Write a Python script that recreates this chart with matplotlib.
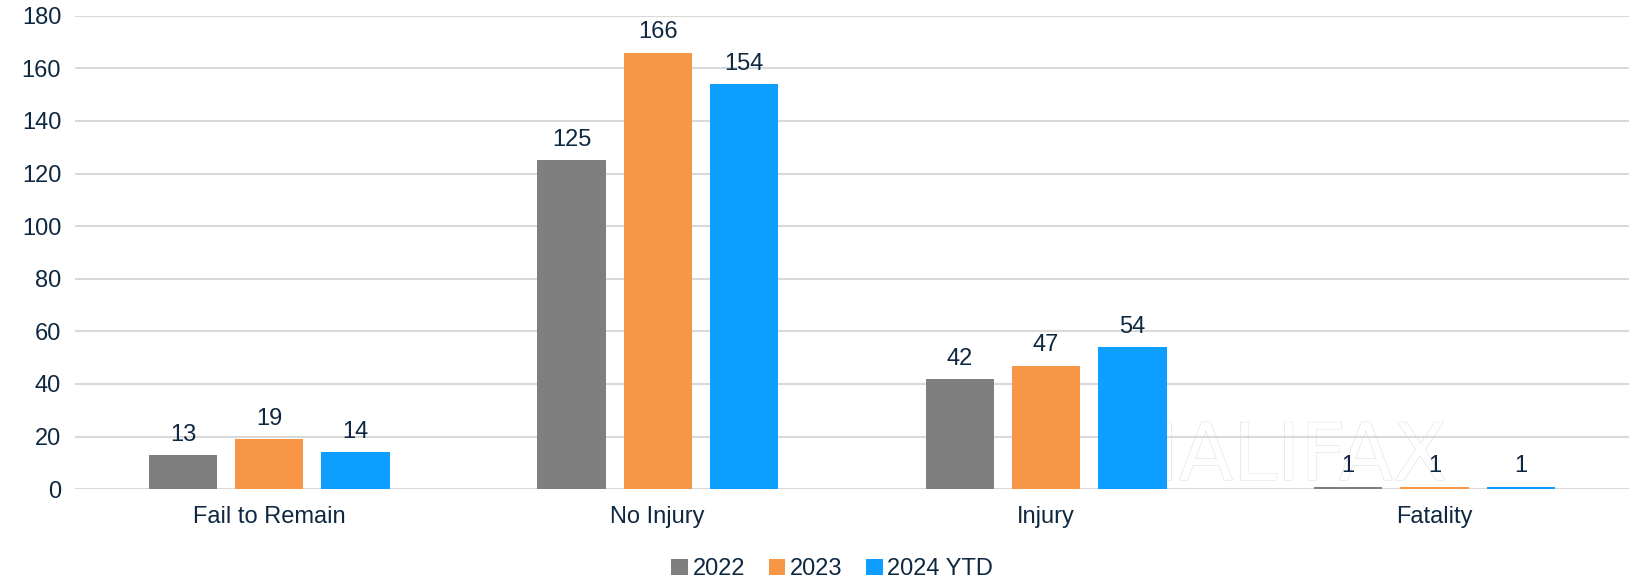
import numpy as np
import matplotlib
matplotlib.use("Agg")
import matplotlib.pyplot as plt
import matplotlib.patheffects as pe
from matplotlib import font_manager

# ---- data ----
categories = ["Fail to Remain", "No Injury", "Injury", "Fatality"]
series_names = ["2022", "2023", "2024 YTD"]
values_2022 = [13, 125, 42, 1]
values_2023 = [19, 166, 47, 1]
values_2024 = [14, 154, 54, 1]
y_ticks = [0, 20, 40, 60, 80, 100, 120, 140, 160, 180]

colors = ["#7F7F7F", "#F79646", "#0D9EFF"]
text_color = "#0E2841"
grid_color = "#D9D9D9"

plt.rcParams["font.family"] = ["Liberation Sans", "DejaVu Sans"]

names = {f.name for f in font_manager.fontManager.ttflist}
wm_family = "Liberation Sans Narrow" if "Liberation Sans Narrow" in names else "DejaVu Sans"

fig = plt.figure(figsize=(16.32, 5.81), dpi=100)
ax = fig.add_axes([0.046, 0.158, 0.952, 0.815])

x = np.arange(len(categories))
width = 0.176
step = 0.222
all_series = [values_2022, values_2023, values_2024]

for i, (vals, name, col) in enumerate(zip(all_series, series_names, colors)):
    pos = x + (i - 1) * step
    bars = ax.bar(pos, vals, width, color=col, label=name, zorder=2)
    for b, v in zip(bars, vals):
        ax.text(b.get_x() + b.get_width() / 2, v + 3.5, str(v),
                ha="center", va="bottom", fontsize=17, color=text_color, zorder=3)

# faint watermark behind the bars
ax.text(2.61, 3.5, "HALIFAX", fontsize=57, color="white", ha="center", va="baseline",
        family=wm_family, zorder=0.4,
        path_effects=[pe.Stroke(linewidth=0.6, foreground="#D6D6D6"), pe.Normal()])

ax.set_xlim(-0.5, len(categories) - 0.5)
ax.set_ylim(0, 180)
ax.set_yticks(y_ticks)
ax.set_xticks(x)
ax.set_xticklabels(categories)
ax.tick_params(axis="both", length=0, labelsize=17, colors=text_color)
ax.tick_params(axis="x", pad=12)
ax.tick_params(axis="y", pad=10)
ax.yaxis.grid(True, color=grid_color, linewidth=1.5)
ax.set_axisbelow(True)
for s in ax.spines.values():
    s.set_visible(False)

leg = fig.legend(loc="lower center", bbox_to_anchor=(0.51, -0.035), ncol=3, frameon=False,
                 fontsize=17, handlelength=0.7, handleheight=0.7, handletextpad=0.2,
                 columnspacing=1.0)
for t in leg.get_texts():
    t.set_color(text_color)

fig.savefig("out.png", dpi=100)
